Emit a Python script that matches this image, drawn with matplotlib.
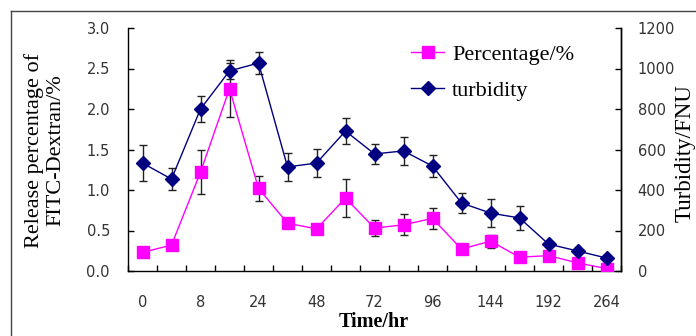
import numpy as np
import matplotlib
matplotlib.use("Agg")
import matplotlib.pyplot as plt
from matplotlib.lines import Line2D

# time points (hr) and labels shown on the axis
times = [0, 4, 8, 16, 24, 36, 48, 60, 72, 84, 96, 120, 144, 168, 192, 228, 264]
tick_labels = ["0", "", "8", "", "24", "", "48", "", "72", "", "96", "", "144", "", "192", "", "264"]

percentage = [0.23, 0.32, 1.22, 2.25, 1.02, 0.59, 0.52, 0.90, 0.53, 0.57, 0.65, 0.27, 0.37, 0.17, 0.19, 0.10, 0.03]
percentage_err = [0.03, 0.03, 0.27, 0.35, 0.15, 0.03, 0.03, 0.23, 0.10, 0.13, 0.13, 0.03, 0.08, 0.03, 0.03, 0.03, 0.02]

turbidity = [533, 454, 800, 988, 1027, 514, 533, 691, 578, 593, 518, 336, 286, 262, 133, 99, 64]
turbidity_err = [90, 55, 65, 40, 55, 70, 70, 65, 50, 70, 55, 50, 70, 60, 10, 10, 8]

pink = "#FF00FF"
navy = "#000080"
serif = ["Liberation Serif", "DejaVu Serif"]
plt.rcParams["font.family"] = ["DejaVu Sans"]

fig = plt.figure(figsize=(6.96, 3.36), dpi=100)
ax = fig.add_axes([128 / 696, 1 - 271 / 336, (621 - 128) / 696, (271 - 28) / 336])
ax2 = ax.twinx()

x = np.arange(len(times))

ax.errorbar(x, percentage, yerr=percentage_err, color=pink, lw=1, marker="s", ms=9,
            mfc=pink, mec=pink, ecolor="#222222", elinewidth=1, capsize=3, capthick=1, zorder=3)
ax2.errorbar(x, turbidity, yerr=turbidity_err, color=navy, lw=1, marker="D", ms=7,
             mfc=navy, mec=navy, ecolor="#222222", elinewidth=1, capsize=3, capthick=1, zorder=3)

ax.set_xlim(-0.5, len(times) - 0.5)
ax.set_ylim(0, 3.0)
ax2.set_ylim(0, 1200)
ax.set_yticks(np.arange(0, 3.01, 0.5))
ax.set_yticklabels(["%.1f" % v for v in np.arange(0, 3.01, 0.5)])
ax2.set_yticks(np.arange(0, 1201, 200))

# category axis: marks between categories, labels at centres
ax.set_xticks(np.arange(-0.5, len(times), 1.0))
ax.set_xticklabels([])
ax.set_xticks(x, minor=True)
ax.set_xticklabels(tick_labels, minor=True)
ax.tick_params(axis="x", which="major", direction="in", length=4, width=1)
ax.tick_params(axis="x", which="minor", length=0, pad=17, labelsize=10.5, labelcolor="#333333")
ax.tick_params(axis="y", direction="in", length=4, width=1, pad=13, labelsize=10.5, labelcolor="#333333")
ax2.tick_params(axis="y", direction="in", length=4, width=1, pad=12, labelsize=10.5, labelcolor="#333333")

for a in (ax, ax2):
    a.spines["top"].set_visible(False)
    for s in ("left", "right", "bottom"):
        a.spines[s].set_linewidth(1)
ax2.spines["left"].set_visible(False)
ax2.spines["bottom"].set_visible(False)

fig.text(374 / 696, 1 - 322 / 336, "Time/hr", family=serif, fontsize=14.5,
         fontweight="bold", ha="center", va="center")
fig.text(45 / 696, 1 - 150 / 336, "Release percentage of\nFITC-Dextran/%", family=serif,
         fontsize=16, rotation=90, ha="center", va="center", linespacing=1.2)
fig.text(685 / 696, 1 - 153 / 336, "Turbidity/FNU", family=serif,
         fontsize=16.5, rotation=90, ha="center", va="center")

handles = [Line2D([], [], color=pink, lw=1, marker="s", ms=9, mfc=pink, mec=pink),
           Line2D([], [], color=navy, lw=1, marker="D", ms=7, mfc=navy, mec=navy)]
fig.legend(handles, ["Percentage/%", "turbidity"], loc="upper left",
           bbox_to_anchor=(391 / 696, 1 - 24 / 336), frameon=False,
           prop={"family": serif, "size": 16}, handlelength=1.5, labelspacing=0.7,
           handletextpad=0.35)

# outer frame of the chart area
fig.add_artist(Line2D([11 / 696, 1], [1 - 11 / 336, 1 - 11 / 336], color="#444444", lw=1))
fig.add_artist(Line2D([11 / 696, 11 / 696], [0, 1 - 11 / 336], color="#444444", lw=1))

fig.savefig("out.png", dpi=100)
